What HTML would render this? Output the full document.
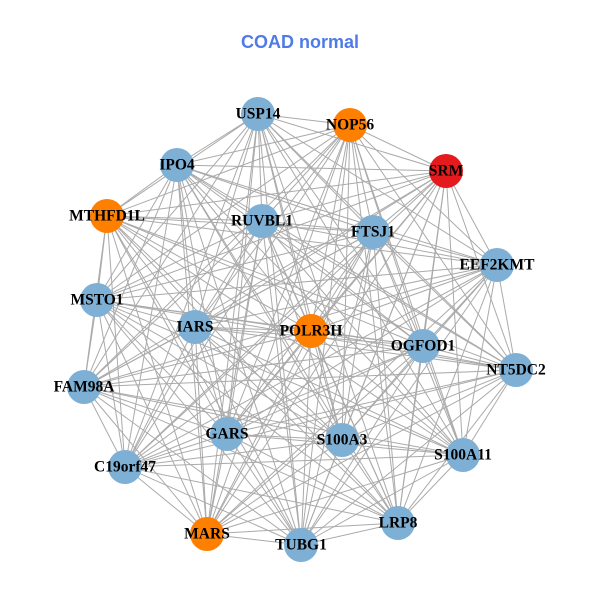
<!DOCTYPE html>
<html><head><meta charset="utf-8"><style>
html,body{margin:0;padding:0;background:#fff;width:600px;height:600px;overflow:hidden}
text.l{font-family:"Liberation Serif",serif;font-weight:bold;font-size:15.5px;fill:#000;text-anchor:middle;dominant-baseline:central}
</style></head><body>
<svg id="s" width="600" height="600" viewBox="0 0 600 600">
<text x="300" y="48" text-anchor="middle" font-family="Liberation Sans, sans-serif" font-weight="bold" font-size="18" fill="#4F7BE8">COAD normal</text>
<g id="e" stroke="#aaa" stroke-width="1"></g>
<g id="n"></g>
<g>
<text class="l" x="258" y="114">USP14</text>
<text class="l" x="350" y="125">NOP56</text>
<text class="l" x="446" y="171">SRM</text>
<text class="l" x="177" y="165">IPO4</text>
<text class="l" x="107" y="216">MTHFD1L</text>
<text class="l" x="262" y="221">RUVBL1</text>
<text class="l" x="373" y="232">FTSJ1</text>
<text class="l" x="497" y="265">EEF2KMT</text>
<text class="l" x="97" y="300">MSTO1</text>
<text class="l" x="195" y="327">IARS</text>
<text class="l" x="311" y="331">POLR3H</text>
<text class="l" x="423" y="346">OGFOD1</text>
<text class="l" x="516" y="370">NT5DC2</text>
<text class="l" x="84" y="387">FAM98A</text>
<text class="l" x="227" y="434">GARS</text>
<text class="l" x="342" y="440">S100A3</text>
<text class="l" x="463" y="455">S100A11</text>
<text class="l" x="125" y="467">C19orf47</text>
<text class="l" x="207" y="534">MARS</text>
<text class="l" x="301" y="545">TUBG1</text>
<text class="l" x="398" y="523">LRP8</text>
</g>
</svg>
<script>
var N=[[258,114,0],[350,125,1],[446,171,2],[177,165,0],[107,216,1],[262,221,0],[373,232,0],[497,265,0],[97,300,0],[195,327,0],[311,331,1],[423,346,0],[516,370,0],[84,387,0],[227,434,0],[342,440,0],[463,455,0],[125,467,0],[207,534,1],[301,545,0],[398,523,0]];
var C=["#7EB0D5","#FF7F00","#E41A1C"],ns="http://www.w3.org/2000/svg";
var e=document.getElementById("e"),n=document.getElementById("n");
for(var i=0;i<N.length;i++)for(var j=i+1;j<N.length;j++){var l=document.createElementNS(ns,"line");l.setAttribute("x1",N[i][0]);l.setAttribute("y1",N[i][1]);l.setAttribute("x2",N[j][0]);l.setAttribute("y2",N[j][1]);e.appendChild(l);}
N.forEach(function(p){var c=document.createElementNS(ns,"circle");c.setAttribute("cx",p[0]);c.setAttribute("cy",p[1]);c.setAttribute("r",17);c.setAttribute("fill",C[p[2]]);n.appendChild(c);});
</script>
</body></html>
